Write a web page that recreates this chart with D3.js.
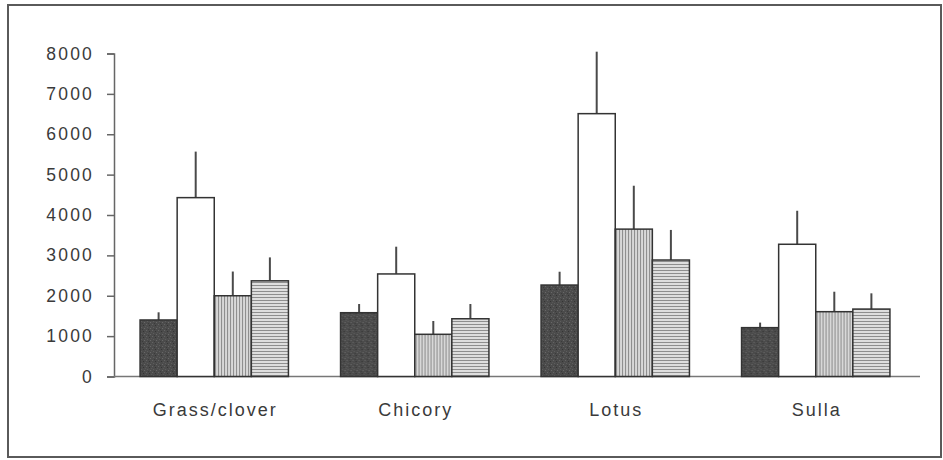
<!DOCTYPE html>
<html>
<head>
<meta charset="utf-8">
<script src="https://cdn.jsdelivr.net/npm/d3@7"></script>
<style>
  html, body { margin: 0; padding: 0; background: #fff; }
  svg { display: block; }
  text { font-family: Arial, "Liberation Sans", sans-serif; fill: #3a3a3a; }
</style>
</head>
<body>
<svg id="chart" width="943" height="460"></svg>
<script>
// Forage crops and the four treatment series (means with upper error bars)
const categories = ["Grass/clover", "Chicory", "Lotus", "Sulla"];
const seriesKeys = ["dark", "open", "vertical", "horizontal"];
const means = {
  dark:       [1400, 1580, 2265, 1210],
  open:       [4430, 2540, 6510, 3275],
  vertical:   [2000, 1045, 3650, 1605],
  horizontal: [2370, 1430, 2885, 1670]
};
const errors = {
  dark:       [190, 215, 330, 125],
  open:       [1140, 675, 1535, 830],
  vertical:   [600, 330, 1075, 495],
  horizontal: [580, 365, 745, 390]
};
const yTicks = [0, 1000, 2000, 3000, 4000, 5000, 6000, 7000, 8000];

const svg = d3.select("#chart");
const defs = svg.append("defs");

// Stippled dark fill
const stip = defs.append("pattern").attr("id", "pat-dark")
  .attr("patternUnits", "userSpaceOnUse").attr("width", 6).attr("height", 6);
stip.append("rect").attr("width", 6).attr("height", 6).attr("fill", "#4b4b4b");
[[0,0,"#666"],[3,1,"#333"],[1,3,"#5e5e5e"],[4,4,"#6a6a6a"],[2,5,"#3a3a3a"],[5,2,"#595959"]]
  .forEach(([x, y, c]) => stip.append("rect").attr("x", x).attr("y", y)
    .attr("width", 1).attr("height", 1).attr("fill", c));

// Vertical hatching
const vpat = defs.append("pattern").attr("id", "pat-vertical")
  .attr("patternUnits", "userSpaceOnUse").attr("width", 3).attr("height", 3);
vpat.append("rect").attr("width", 3).attr("height", 3).attr("fill", "#d8d8d8");
vpat.append("rect").attr("x", 0).attr("width", 1).attr("height", 3).attr("fill", "#8a8a8a");

// Horizontal hatching
const hpat = defs.append("pattern").attr("id", "pat-horizontal")
  .attr("patternUnits", "userSpaceOnUse").attr("width", 3).attr("height", 3);
hpat.append("rect").attr("width", 3).attr("height", 3).attr("fill", "#dedede");
hpat.append("rect").attr("y", 0).attr("width", 3).attr("height", 1).attr("fill", "#8e8e8e");

const fills = {
  dark: "url(#pat-dark)",
  open: "#ffffff",
  vertical: "url(#pat-vertical)",
  horizontal: "url(#pat-horizontal)"
};

// Outer frame
svg.append("rect").attr("x", 8).attr("y", 5).attr("width", 933).attr("height", 452)
  .attr("fill", "none").attr("stroke", "#5a5a5a").attr("stroke-width", 2);

const x0 = d3.scaleBand().domain(categories).range([114, 916])
  .paddingInner(0.26).paddingOuter(0.13);
const x1 = d3.scaleBand().domain(seriesKeys).range([0, x0.bandwidth()]).padding(0);
const y = d3.scaleLinear().domain([0, 8000]).range([376.5, 53.5]);

// Y axis
const yAxis = svg.append("g").attr("transform", "translate(114,0)")
  .call(d3.axisLeft(y).tickValues(yTicks).tickSize(7).tickPadding(13).tickFormat(d3.format("d")));
yAxis.select(".domain").attr("stroke", "#666").attr("stroke-width", 1.5);
yAxis.selectAll(".tick line").attr("stroke", "#666").attr("stroke-width", 1.5);
yAxis.selectAll(".tick text")
  .style("font-size", "17.5px").style("letter-spacing", "2.2px")
  .attr("fill", "#3a3a3a").attr("font-family", null);

// Category baseline
svg.append("line").attr("x1", 114).attr("x2", 920)
  .attr("y1", y(0)).attr("y2", y(0))
  .attr("stroke", "#777").attr("stroke-width", 1.5);

// Bars and error bars
const rows = categories.map((c, i) => ({
  cat: c,
  items: seriesKeys.map(k => ({ key: k, value: means[k][i], err: errors[k][i] }))
}));

const groups = svg.append("g").selectAll("g").data(rows).join("g")
  .attr("transform", d => `translate(${x0(d.cat)},0)`);

groups.selectAll("line.err").data(d => d.items).join("line")
  .attr("class", "err")
  .attr("x1", d => x1(d.key) + x1.bandwidth() / 2)
  .attr("x2", d => x1(d.key) + x1.bandwidth() / 2)
  .attr("y1", d => y(d.value))
  .attr("y2", d => y(d.value + d.err))
  .attr("stroke", "#4a4a4a").attr("stroke-width", 2);

groups.selectAll("rect").data(d => d.items).join("rect")
  .attr("x", d => x1(d.key))
  .attr("y", d => y(d.value))
  .attr("width", x1.bandwidth())
  .attr("height", d => y(0) - y(d.value))
  .attr("fill", d => fills[d.key])
  .attr("stroke", "#333").attr("stroke-width", 1.5);

// Category labels
svg.append("g").selectAll("text").data(categories).join("text")
  .attr("x", d => x0(d) + x0.bandwidth() / 2 + 1)
  .attr("y", 416)
  .attr("text-anchor", "middle")
  .style("font-size", "18px").style("letter-spacing", "2px")
  .text(d => d);
</script>
</body>
</html>
